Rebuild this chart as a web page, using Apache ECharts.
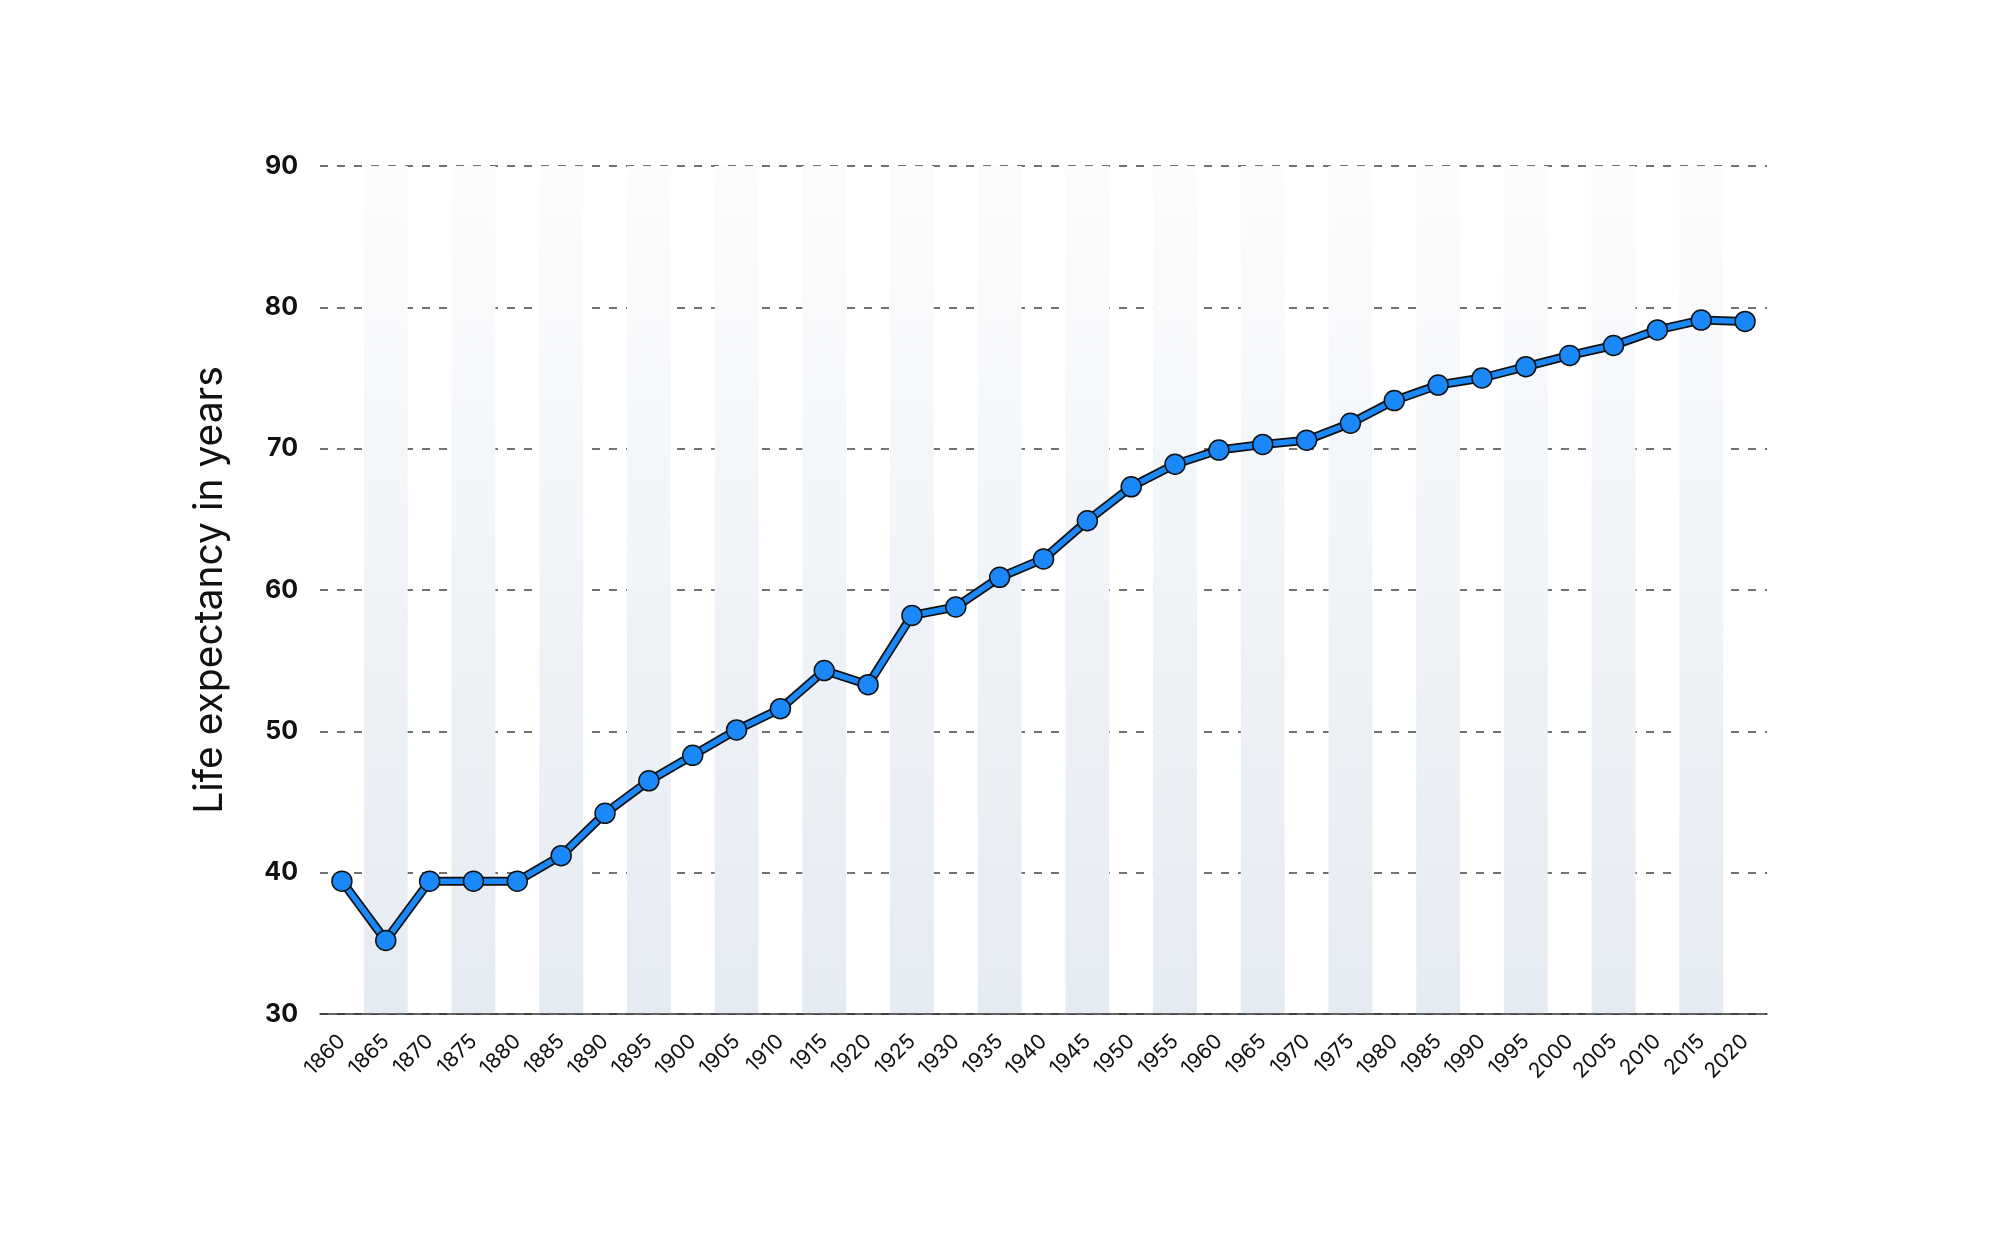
<!DOCTYPE html>
<html>
<head>
<meta charset="utf-8">
<script src="https://cdn.jsdelivr.net/npm/echarts@6/dist/echarts.min.js"></script>
<style>
  html, body { margin: 0; padding: 0; background: #fff; }
  #chart { width: 2000px; height: 1240px; }
</style>
</head>
<body>
<div id="chart"></div>
<script>
// years on the x axis
const years = [
  "1860", "1865", "1870", "1875", "1880", "1885", "1890", "1895", "1900", "1905",
  "1910", "1915", "1920", "1925", "1930", "1935", "1940", "1945", "1950", "1955",
  "1960", "1965", "1970", "1975", "1980", "1985", "1990", "1995", "2000", "2005",
  "2010", "2015", "2020"
];

// life expectancy
const lifeExpectancy = [
  39.4, 35.2, 39.4, 39.4, 39.4, 41.2, 44.2, 46.5, 48.3, 50.1,
  51.6, 54.3, 53.3, 58.2, 58.8, 60.9, 62.2, 64.9, 67.3, 68.9,
  69.9, 70.3, 70.6, 71.8, 73.4, 74.5, 75.0, 75.8, 76.6, 77.3,
  78.4, 79.1, 79.0
];

const yMin = 30;
const yMax = 90;
const yStep = 10;

const chart = echarts.init(document.getElementById("chart"));

const bandFill = new echarts.graphic.LinearGradient(0, 0, 0, 1, [
  { offset: 0, color: "#fbfcfd" },
  { offset: 1, color: "#e5ebf2" }
]);

const option = {
  backgroundColor: "#ffffff",
  textStyle: { fontFamily: "Inter" },
  grid: { left: 320, right: 233, top: 166, bottom: 226 },
  xAxis: {
    type: "category",
    data: years,
    boundaryGap: true,
    axisLine: { show: true, lineStyle: { color: "#333", width: 1.5 } },
    axisTick: { show: false },
    axisLabel: {
      interval: 0,
      rotate: 45,
      margin: 24,
      fontSize: 21,
      color: "#111",
      fontFamily: "Inter"
    },
    splitLine: { show: false },
    splitArea: {
      show: true,
      interval: 0,
      areaStyle: { color: ["rgba(255,255,255,0)", bandFill] }
    }
  },
  yAxis: {
    type: "value",
    min: yMin,
    max: yMax,
    interval: yStep,
    name: "Life expectancy in years",
    nameLocation: "middle",
    nameGap: 90,
    nameTextStyle: { fontSize: 39, color: "#111", fontFamily: "Inter" },
    axisLine: { show: false },
    axisTick: { show: false },
    axisLabel: {
      margin: 22,
      fontSize: 25,
      fontWeight: "bold",
      color: "#111",
      fontFamily: "Inter"
    },
    splitLine: {
      show: true,
      lineStyle: { color: "#444", width: 1.5, type: [8, 9] }
    }
  },
  series: [
    {
      // dark outline under the blue line
      type: "line",
      data: lifeExpectancy,
      symbol: "none",
      lineStyle: { color: "#111", width: 9 },
      silent: true,
      z: 3
    },
    {
      type: "line",
      data: lifeExpectancy,
      symbol: "circle",
      symbolSize: 20,
      lineStyle: { color: "#1a88f8", width: 5.5 },
      itemStyle: { color: "#1a88f8", borderColor: "#111", borderWidth: 1.5 },
      z: 4
    }
  ]
};

chart.setOption(option);
</script>
</body>
</html>
